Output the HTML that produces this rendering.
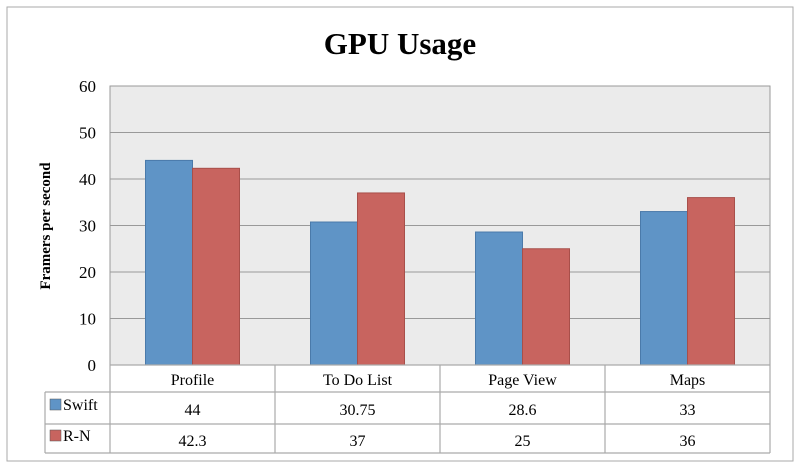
<!DOCTYPE html>
<html><head><meta charset="utf-8"><style>
body{margin:0;background:#fff;}
svg{display:block;font-family:"Liberation Serif",serif;}
</style></head><body>
<svg width="800" height="466">
<rect x="7" y="7" width="786" height="454" fill="#fff" stroke="#aaa" stroke-width="1"/>
<text x="400" y="54" text-anchor="middle" font-size="31" font-weight="bold">GPU Usage</text>
<text transform="translate(50,226) rotate(-90)" text-anchor="middle" font-size="15" font-weight="bold">Framers per second</text>
<g id="plot"></g>
</svg>
<script>
const categories=["Profile","To Do List","Page View","Maps"];
const seriesNames=["Swift","R-N"];
const swiftValues=[44,30.75,28.6,33];
const rnValues=[42.3,37,25,36];
const yTicks=[0,10,20,30,40,50,60];
const swiftLabels=["44","30.75","28.6","33"];
const rnLabels=["42.3","37","25","36"];

const NS="http://www.w3.org/2000/svg";
const g=document.getElementById('plot');
const L=110,R=770,T=86,B=365,yMax=60;
const y=v=>B-(v/yMax)*(B-T);
const bw=(R-L)/categories.length;
const x=i=>L+i*bw;
function mk(tag,attrs,parent){const e=document.createElementNS(NS,tag);for(const k in attrs)e.setAttribute(k,attrs[k]);(parent||g).appendChild(e);return e;}

const bg=mk('rect',{x:L,y:T,width:R-L,height:B-T,fill:'#ebebeb',stroke:'#999','stroke-width':1});


yTicks.forEach(t=>{
  const ln=mk('line',{x1:L,x2:R,y1:y(t),y2:y(t),stroke:'#999','stroke-width':1});
  
  
  const tx=mk('text',{x:96,y:y(t)+6,'text-anchor':'end','font-size':17});
  tx.textContent=t;
  
  
});
const barW=47;
categories.forEach((c,i)=>{
  const cx=x(i)+bw/2;
  const b1=mk('rect',{x:cx-barW,y:y(swiftValues[i]),width:barW,height:B-y(swiftValues[i]),fill:'#5f94c6',stroke:'#4a7aaa','stroke-width':1});
  
  
  const b2=mk('rect',{x:cx,y:y(rnValues[i]),width:barW,height:B-y(rnValues[i]),fill:'#c8645f',stroke:'#a84f4a','stroke-width':1});
  
  
});
// data table
const rows=[B,392,424,453];
const tL=45;
const st={stroke:'#aaa','stroke-width':1.2};
mk('line',Object.assign({x1:L,x2:R,y1:rows[0],y2:rows[0]},st));
for(let r=1;r<4;r++) mk('line',Object.assign({x1:tL,x2:R,y1:rows[r],y2:rows[r]},st));
mk('line',Object.assign({x1:tL,x2:tL,y1:rows[1],y2:rows[3]},st));
for(let i=0;i<=categories.length;i++) mk('line',Object.assign({x1:x(i),x2:x(i),y1:rows[0],y2:rows[3]},st));
categories.forEach((c,i)=>{
  const cx=x(i)+bw/2;
  const t=mk('text',{x:cx,y:385,'text-anchor':'middle','font-size':16});
  t.textContent=c;
  
  
  const a=mk('text',{x:cx,y:415,'text-anchor':'middle','font-size':16});
  a.textContent=swiftLabels[i];
  
  
  const b=mk('text',{x:cx,y:446,'text-anchor':'middle','font-size':16});
  b.textContent=rnLabels[i];
  
  
});
const colors=['#5f94c6','#c8645f'];
seriesNames.forEach((n,k)=>{
  const cy=k===0?408:439;
  const sw=mk('rect',{x:50,y:cy-9,width:11,height:11,fill:colors[k],stroke:'#555','stroke-width':0.5});
  
  
  const t=mk('text',{x:63,y:cy+2,'font-size':16});
  t.textContent=n;
  
  
});
</script>
</body></html>
